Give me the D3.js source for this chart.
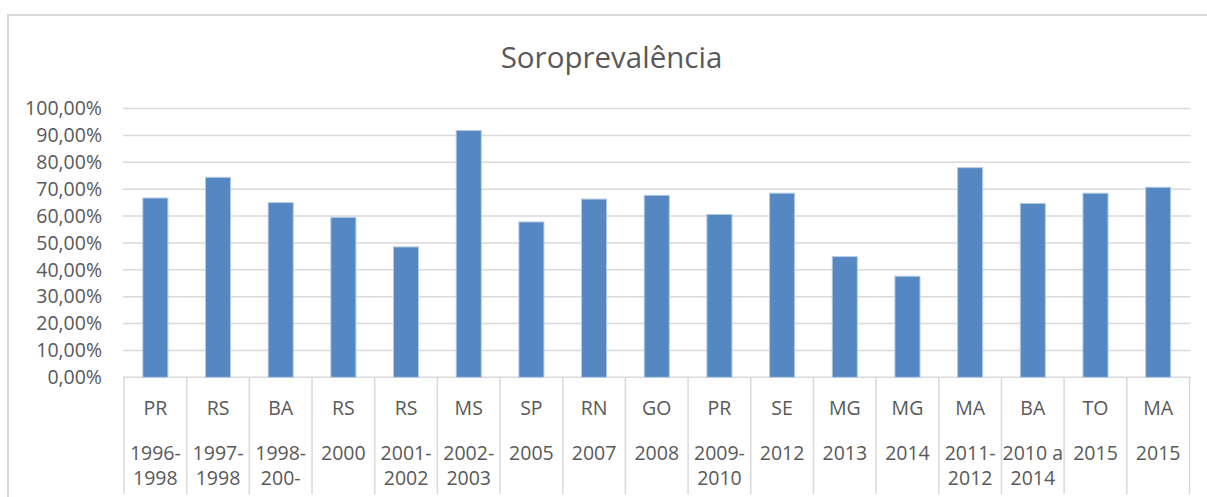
<!DOCTYPE html>
<html lang="pt">
  <head>
    <meta charset="UTF-8" />
    <script src="https://d3js.org/d3.v7.min.js"></script>
    <title>Soroprevalência</title>
    <style>
      body { margin: 0; background: #fff; }
      svg text { font-family: 'Open Sans', sans-serif; fill: #595959; }
    </style>
  </head>
  <body>
    <script>
      // chart data
      const states = ['PR', 'RS', 'BA', 'RS', 'RS', 'MS', 'SP', 'RN', 'GO', 'PR', 'SE', 'MG', 'MG', 'MA', 'BA', 'TO', 'MA']
      const yearLines = [
        ['1996-', '1998'], ['1997-', '1998'], ['1998-', '200-'], ['2000'], ['2001-', '2002'],
        ['2002-', '2003'], ['2005'], ['2007'], ['2008'], ['2009-', '2010'], ['2012'],
        ['2013'], ['2014'], ['2011-', '2012'], ['2010 a', '2014'], ['2015'], ['2015'],
      ]
      const values = [66.7, 74.4, 65.0, 59.5, 48.5, 91.8, 57.8, 66.3, 67.7, 60.6, 68.5, 44.9, 37.6, 78.0, 64.7, 68.5, 70.7]
      const yTicks = [0, 10, 20, 30, 40, 50, 60, 70, 80, 90, 100]

      const width = 1207, height = 497
      const svg = d3.select('body').append('svg').attr('width', width).attr('height', height)

      // outer chart border
      svg.append('path')
        .attr('d', `M8,${height} L8,15 L${width},15`)
        .attr('fill', 'none')
        .attr('stroke', '#d9d9d9')
        .attr('stroke-width', 2)

      const plot = { left: 124, right: 1189.5, top: 108.5, bottom: 377.3 }
      const idx = d3.range(values.length)

      const x = d3.scaleBand().domain(idx).range([plot.left, plot.right]).paddingInner(0.6).paddingOuter(0.3)
      const y = d3.scaleLinear().domain([0, 100]).range([plot.bottom, plot.top])

      // title
      svg.append('text')
        .attr('x', 611.5)
        .attr('y', 67.5)
        .attr('text-anchor', 'middle')
        .style('font-size', '29.5px')
        .text('Soroprevalência')

      // gridlines
      svg.append('g')
        .selectAll('line')
        .data(yTicks)
        .join('line')
        .attr('x1', plot.left - 1)
        .attr('x2', plot.right + 1)
        .attr('y1', (d) => y(d))
        .attr('y2', (d) => y(d))
        .attr('stroke', '#d9d9d9')
        .attr('stroke-width', 1.5)

      // y tick labels
      const fmt = (d) => d3.format('.2f')(d).replace('.', ',') + '%'
      svg.append('g')
        .selectAll('text')
        .data(yTicks)
        .join('text')
        .attr('x', 102)
        .attr('y', (d) => y(d))
        .attr('dy', '0.35em')
        .attr('text-anchor', 'end')
        .style('font-size', '19.5px')
        .text(fmt)

      // bars
      svg.append('g')
        .selectAll('rect')
        .data(values)
        .join('rect')
        .attr('x', (d, i) => x(i))
        .attr('width', x.bandwidth())
        .attr('y', (d) => y(d))
        .attr('height', (d) => y(0) - y(d))
        .attr('fill', '#5588c2')
        .attr('stroke', '#b4cbe6')
        .attr('stroke-width', 1)

      // category table separators
      const step = x.step()
      const bounds = d3.range(values.length + 1).map((i) => plot.left + i * step)
      svg.append('g')
        .selectAll('line')
        .data(bounds)
        .join('line')
        .attr('x1', (d) => d)
        .attr('x2', (d) => d)
        .attr('y1', plot.bottom)
        .attr('y2', 494)
        .attr('stroke', '#d9d9d9')
        .attr('stroke-width', 1.5)

      // category labels
      const cats = svg.append('g')
        .selectAll('g')
        .data(idx)
        .join('g')
        .attr('transform', (i) => `translate(${x(i) + x.bandwidth() / 2},0)`)
      cats.append('text')
        .attr('y', 415)
        .attr('text-anchor', 'middle')
        .style('font-size', '19.5px')
        .text((i) => states[i])
      cats.selectAll('text.yr')
        .data((i) => yearLines[i])
        .join('text')
        .attr('class', 'yr')
        .attr('y', (d, j) => 459.5 + j * 25.6)
        .attr('text-anchor', 'middle')
        .style('font-size', '19.5px')
        .text((d) => d)
    </script>
  </body>
</html>
